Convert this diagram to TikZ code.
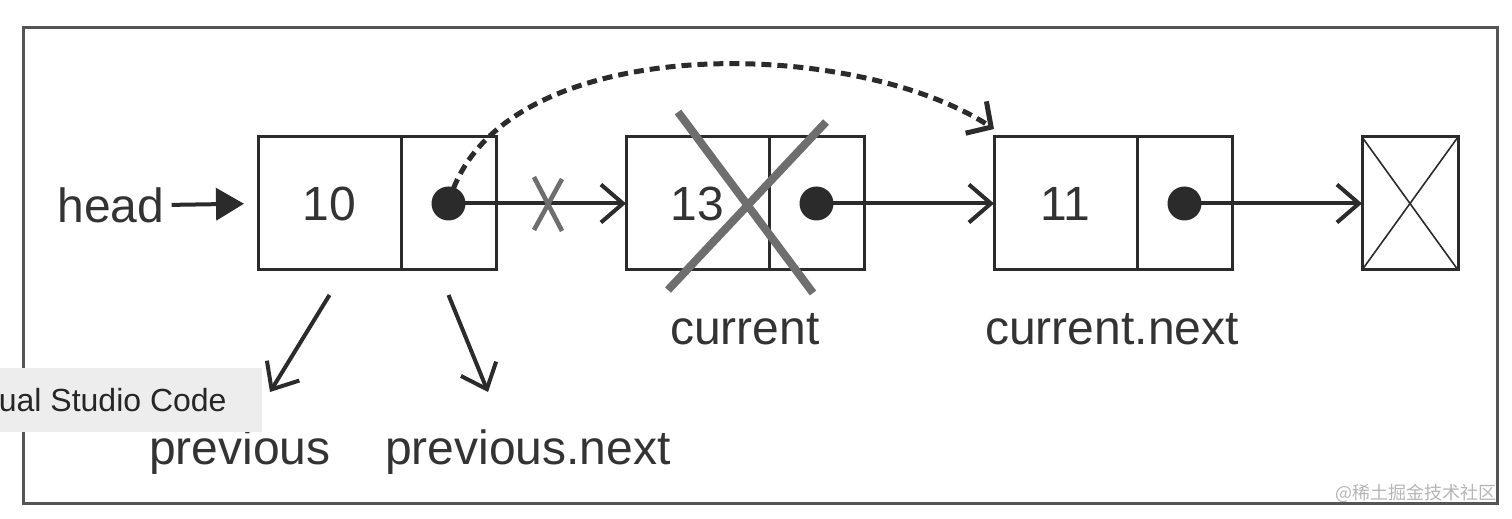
\documentclass[tikz,border=0pt]{standalone}
\usepackage{fontspec}
\setmainfont{Liberation Sans}
\newfontfamily\cjk{Noto Sans CJK SC}
\usetikzlibrary{arrows.meta}
\definecolor{boxc}{HTML}{2B2B2B}
\definecolor{txt}{HTML}{333333}
\definecolor{framec}{HTML}{555555}
\definecolor{crossc}{HTML}{6E6E6E}
\definecolor{tipbg}{HTML}{EDEDED}
\definecolor{wmark}{HTML}{B5B5B5}
\tikzset{
  cell/.style={draw=boxc, line width=1.5pt, minimum height=66.5pt, inner sep=0pt, outer sep=0pt,
    font=\fontsize{24}{28}\selectfont, text=txt},
  datacell/.style={cell, minimum width=71.5pt},
  ptrcell/.style={cell, minimum width=47.5pt},
  nullcell/.style={cell, minimum width=48pt},
  dotn/.style={circle, fill=boxc, minimum size=17pt, inner sep=0pt},
  link/.style={line width=2pt, draw=boxc, -{Straight Barb[length=11pt,width=19pt]}},
  lbl/.style={font=\fontsize{24}{28}\selectfont, text=txt, inner sep=0pt},
  strike/.style={draw=crossc, line width=4pt},
  smallstrike/.style={draw=crossc, line width=2.3pt},
}
\begin{document}
\begin{tikzpicture}[x=0.5pt,y=-0.5pt]
\useasboundingbox (0,0) rectangle (1512,519);
% frame
\draw[framec, line width=1.5pt] (23,28) rectangle (1497,503);
% nodes
\node[datacell, anchor=west] (d1) at (258,203.5) {10};
\node[ptrcell, anchor=west] (p1) at (d1.east) {};
\node[datacell, anchor=west] (d2) at (626,203.5) {13};
\node[ptrcell, anchor=west] (p2) at (d2.east) {};
\node[datacell, anchor=west] (d3) at (994,203.5) {11};
\node[ptrcell, anchor=west] (p3) at (d3.east) {};
\node[nullcell, anchor=west] (nul) at (1362,203.5) {};
\draw[boxc, line width=0.8pt] (nul.north west) -- (nul.south east) (nul.south west) -- (nul.north east);
\node[dotn] (dot1) at (p1.center) {};
\node[dotn] (dot2) at (p2.center) {};
\node[dotn] (dot3) at (p3.center) {};
% head
\node[lbl, anchor=west] (head) at (57,205) {head};
\draw[line width=2pt, draw=boxc, -{Triangle[length=14pt,width=16pt]}, shorten <=3.5pt, shorten >=7pt] (head.east) -- (d1.west);
% links
\draw[link] (dot1.center) -- (d2.west);
\draw[link] (dot2.center) -- (d3.west);
\draw[link] (dot3.center) -- (nul.west);
% small cross on the first link
\draw[smallstrike] (534,177) -- (562,231) (562,179) -- (534,230);
% big cross on node 13
\draw[strike] (678,112) -- (813,293) (668,290) -- (826,122);
% dashed bypass
\coordinate (tip) at ([yshift=4pt]d3.north west);
\draw[boxc, line width=2.5pt, dash pattern=on 5pt off 3pt, -{Straight Barb[length=9pt,width=19pt]}]
  (dot1.center) .. controls (495,30) and (850,35) .. (tip);
% labels
\node[lbl, anchor=base] (cur) at (745,344) {current};
\node[lbl, anchor=base] (curn) at (1112,344) {current.next};
\node[lbl, anchor=base] (prev) at (240,464) {previous};
\node[lbl, anchor=base] (prevn) at (528,464) {previous.next};
\coordinate (pa) at (270,392);
\coordinate (pb) at (488,392);
\draw[link] ([yshift=-12.5pt]d1.south) -- (pa);
\draw[link] ([yshift=-12.5pt]p1.south) -- (pb);
% tooltip overlay
\fill[tipbg] (0,368) rectangle (262,432);
\node[anchor=east, inner sep=0pt, font=\fontsize{16}{19}\selectfont, text=black!85] (tip2) at (227,400) {ual Studio Code};
% watermark
\node[anchor=south east, inner sep=0pt, font=\cjk\fontsize{9}{11}\selectfont, text=wmark] (wm) at (1497,503) {@稀土掘金技术社区};
\end{tikzpicture}
\end{document}
